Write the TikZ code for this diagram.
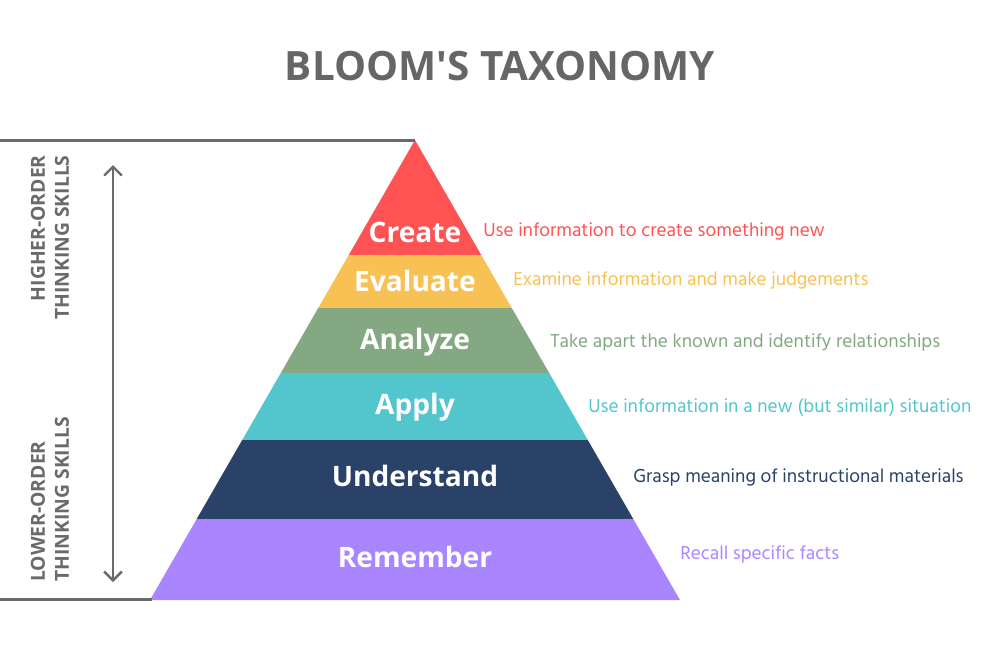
\documentclass[tikz,border=0pt]{standalone}
\usepackage{fontspec}
\setmainfont{Open Sans}
\newfontfamily\descfont{Hind Madurai}
\usetikzlibrary{arrows.meta}

\definecolor{ttlgray}{HTML}{666666}
\definecolor{linegray}{HTML}{6A6A6A}
\definecolor{cCreate}{HTML}{FF5252}
\definecolor{cEvaluate}{HTML}{F8C153}
\definecolor{cAnalyze}{HTML}{84A882}
\definecolor{cApply}{HTML}{52C5CD}
\definecolor{cUnderstand}{HTML}{2A4268}
\definecolor{cRemember}{HTML}{A986FF}

\tikzset{
  level/.style={font=\fontsize{16}{19}\selectfont\bfseries, text=white, inner sep=0pt},
  descr/.style={font=\descfont\fontsize{10.9}{13}\selectfont, anchor=west, inner sep=0pt},
  side/.style={font=\fontsize{11}{13.6}\selectfont\bfseries, text=linegray, rotate=90, inner sep=0pt},
  bracket/.style={draw=linegray, line width=1.7pt}
}

\begin{document}
\begin{tikzpicture}[x=0.02cm, y=-0.02cm]
\useasboundingbox (0,0) rectangle (1000,667);

% Titel
\node[font=\fontsize{23}{27}\selectfont\bfseries, text=ttlgray] (title) at (500,66) {BLOOM\textquotesingle S TAXONOMY};

% Pyramide
\fill[cCreate] (415,140) -- (481.25,255) -- (348.75,255) -- cycle;
\fill[cEvaluate] (348.75,255) -- (481.25,255) -- (511.8,308) -- (318.2,308) -- cycle;
\fill[cAnalyze] (318.2,308) -- (511.8,308) -- (549.2,373) -- (280.8,373) -- cycle;
\fill[cApply] (280.8,373) -- (549.2,373) -- (587.8,440) -- (242.2,440) -- cycle;
\fill[cUnderstand] (242.2,440) -- (587.8,440) -- (633.3,519) -- (196.7,519) -- cycle;
\fill[cRemember] (196.7,519) -- (633.3,519) -- (680,600) -- (150,600) -- cycle;

% Stufen beschriften
\node[level] (create) at (415,232) {Create};
\node[level] (evaluate) at (415,281) {Evaluate};
\node[level] (analyze) at (415,342) {Analyze};
\node[level] (apply) at (415,407) {Apply};
\node[level] (understand) at (415,476) {Understand};
\node[level] (remember) at (415,557) {Remember};

% Beschreibungen
\node[descr, text=cCreate] (dcreate) at (483,231) {Use information to create something new};
\node[descr, text=cEvaluate] (devaluate) at (513,280) {Examine information and make judgements};
\node[descr, text=cAnalyze] (danalyze) at (550,342) {Take apart the known and identify relationships};
\node[descr, text=cApply] (dapply) at (588,407) {Use information in a new (but similar) situation};
\node[descr, text=cUnderstand] (dunderstand) at (633,477) {Grasp meaning of instructional materials};
\node[descr, text=cRemember] (dremember) at (680,554) {Recall specific facts};

% Linien links
\coordinate (topL) at (0,140);
\coordinate (apex) at (415,140);
\coordinate (botL) at (0,599);
\coordinate (baseL) at (152,599);
\draw[bracket] (topL) -- (apex);
\draw[bracket] (botL) -- (baseL);

% Pfeil
\coordinate (arrTop) at (113,165);
\coordinate (arrBot) at (113,582);
\draw[draw=linegray, line width=1.4pt, {Straight Barb[length=5pt,width=10pt,line width=1.4pt]}-{Straight Barb[length=5pt,width=10pt,line width=1.4pt]}] (arrTop) -- (arrBot);

% Seitentexte
\node[side, anchor=east, align=right] (higher) at (50,155) {HIGHER-ORDER\\THINKING SKILLS};
\node[side, anchor=west, align=left] (lower) at (50,582) {LOWER-ORDER\\THINKING SKILLS};
\end{tikzpicture}
\end{document}
